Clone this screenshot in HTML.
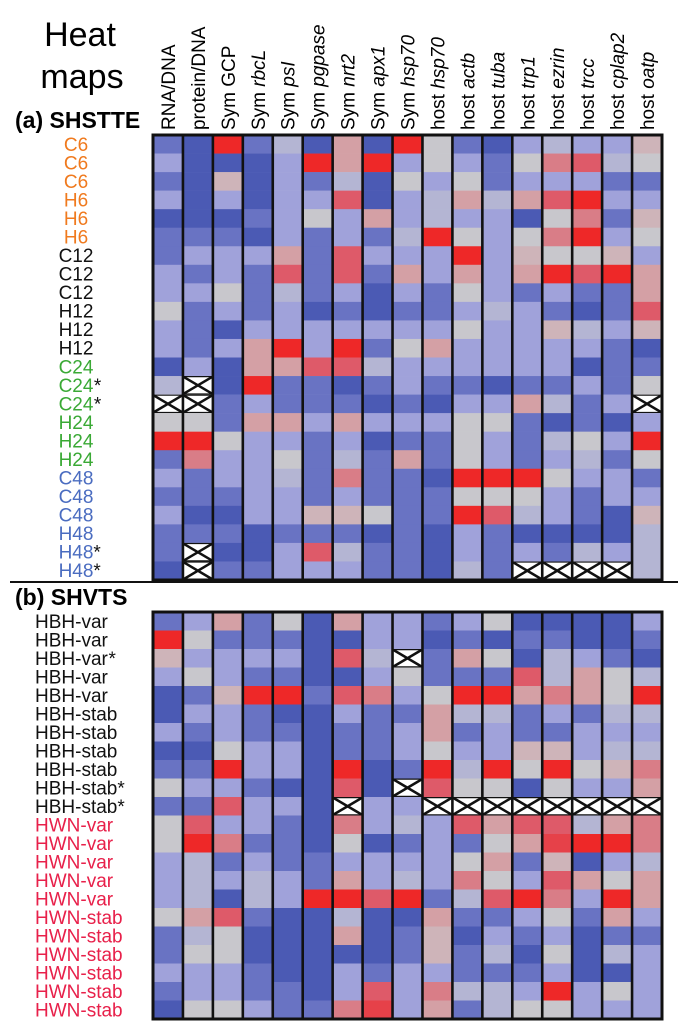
<!DOCTYPE html>
<html><head><meta charset="utf-8"><style>
html,body{margin:0;padding:0;background:#fff;}
body{width:678px;height:1024px;overflow:hidden;font-family:"Liberation Sans",sans-serif;}
</style></head><body>
<svg id="fig" width="678" height="1024" viewBox="0 0 678 1024" xmlns="http://www.w3.org/2000/svg" font-family="Liberation Sans, sans-serif">
<text x="80" y="46" font-size="34" text-anchor="middle">Heat</text>
<text x="82" y="88" font-size="34" text-anchor="middle">maps</text>
<text x="15" y="128" font-size="23" font-weight="bold">(a) SHSTTE</text>
<line x1="10" y1="582" x2="678" y2="582" stroke="#111" stroke-width="2"/>
<text x="15" y="605" font-size="23" font-weight="bold">(b) SHVTS</text>
<g id="headers"></g>
<g id="panelA"></g>
<g id="panelB"></g>
</svg>
<script>
const colLabels = [["","RNA/DNA"],["","protein/DNA"],["Sym ","GCP",0],["Sym ","rbcL"],["Sym ","psI"],["Sym ","pgpase"],["Sym ","nrt2"],["Sym ","apx1"],["Sym ","hsp70"],["host ","hsp70"],["host ","actb"],["host ","tuba"],["host ","trp1"],["host ","ezrin"],["host ","trcc"],["host ","cplap2"],["host ","oatp"]];
const rowLabelsA = ["C6","C6","C6","H6","H6","H6","C12","C12","C12","H12","H12","H12","C24","C24*","C24*","H24","H24","H24","C48","C48","C48","H48","H48*","H48*"];
const rowColorsA = ["#f07a1e","#f07a1e","#f07a1e","#f07a1e","#f07a1e","#f07a1e","#111","#111","#111","#111","#111","#111","#3aa935","#3aa935","#3aa935","#3aa935","#3aa935","#3aa935","#4a6cc0","#4a6cc0","#4a6cc0","#4a6cc0","#4a6cc0","#4a6cc0"];
const rowLabelsB = ["HBH-var","HBH-var","HBH-var*","HBH-var","HBH-var","HBH-stab","HBH-stab","HBH-stab","HBH-stab","HBH-stab*","HBH-stab*","HWN-var","HWN-var","HWN-var","HWN-var","HWN-var","HWN-stab","HWN-stab","HWN-stab","HWN-stab","HWN-stab","HWN-stab"];
const rowColorsB = ["#111","#111","#111","#111","#111","#111","#111","#111","#111","#111","#111","#e8204a","#e8204a","#e8204a","#e8204a","#e8204a","#e8204a","#e8204a","#e8204a","#e8204a","#e8204a","#e8204a"];
const X = null;
const colsA = [
[-2,-1,-2,-1,-3,-2,-2,-1,-1,0,-1,-1,-3,-0.5,X,0,3,-2,-1,-2,-1,-2,-2,-3],
[-3,-3,-3,-3,-3,-2,-1,-2,-1,-2,-2,-2,-1,X,X,0,3,1.5,-2,-2,-3,-2,X,X],
[3,-3,0.5,-1,-3,-2,-1,-1,0,-1,-3,-1,-3,-3,-2,-2,0,-1,-1,-2,-3,-2,-3,-2],
[-2,-3,-3,-3,-2,-3,-1,-2,-2,-2,-1,1,1,3,-1,1,-1,-1,-1,-1,-1,-3,-3,-2],
[-0.5,-1,-1,-1,-1,-1,1,2,-0.5,-1,-1,3,1,-2,-2,1,-1,0,-0.5,-1,-1,-2,-1,-1],
[-3,3,-2,-1,0,-2,-2,-2,-2,-3,-1,-1,2,-2,-2,-1,-2,-2,-2,-2,0.5,-2,2,-1],
[1,1,-0.5,2,-1,-1,2,2,-1,-2,-1,3,2,-3,-2,1,-1,-0.5,1.5,-1,0.5,-2,-0.5,-1],
[-3,3,-3,-3,1,-2,-1,-2,-3,-3,-1,-2,-0.5,-2,-3,-1,-3,-2,-2,-2,0,-3,-2,-2],
[3,-1,0,-1,-1,-0.5,-1,1,-1,-2,-1,0,-1,-1,-2,-1,-2,1,-2,-2,-2,-2,-2,-2],
[0,0,-1,-0.5,-0.5,3,-1,-1,-2,-2,-1,1,-1,-2,-3,-1,-2,-2,-3,-2,-2,-3,-3,-3],
[-2,-1,0,1,-1,0,3,1,0,-1,0,-1,-1,-2,-1,0,0,0,3,0,3,-1,-1,-0.5],
[-3,-2,-2,-0.5,-1,-1,-1,-1,-1,-0.5,-1,-1,-1,-3,-1,0,-1,-1,3,0,2,-2,-2,-2],
[-1,0,-1,1,-3,0,0.5,1,-2,-1,-1,-1,-1,-2,1,-2,-2,-2,3,0,-0.5,-3,-1,X],
[-0.5,1.5,-1,2,0,1.5,0,3,-1,-2,0.5,-1,-1,-2,-0.5,-3,-0.5,-1,0,-1,-1,-3,-2,X],
[-1,2,-1,3,1.5,3,0,2,-2,-3,-0.5,-1,-3,-1,-2,-2,0,-0.5,-1,-2,-2,-3,-0.5,X],
[-1,-0.5,-2,-1,-2,-1,0.5,3,-2,-2,-1,-2,-2,-2,-1,-3,-1,-2,-1,-1,-3,-3,-1,X],
[0.5,0,-2,-1,0.5,0,-1,1,1,2,0.5,-3,-2,0,X,-1,3,0,-2,-1,0.5,-0.5,-0.5,-0.5]
];
const colsB = [
[-2,3,0.5,-1,-3,-3,-1,-3,-2,0,-2,0,0,-1,-1,-1,0,-2,-2,-1,-2,-3],
[-1,0,-1,0,-2,-1,-2,-3,-2,-1,-2,2,3,-0.5,-0.5,-0.5,1,-0.5,0,-1,-1,0],
[1,-2,-1,-1,0.5,-1,-1,0,3,-1,2,-1,1.5,-2,-1,-3,2,0,0,-1,-1,0],
[-2,-2,-1,-2,3,-2,-2,-1,-1,-2,-1,-1,-2,-1,-0.5,-0.5,-2,-3,-3,-2,-2,-1],
[0,-2,-1,-2,3,-3,-2,-1,-1,-3,-1,-2,-2,-2,-1,-1,-3,-3,-3,-3,-2,-2],
[-3,-3,-3,-3,-2,-3,-3,-3,-3,-3,-3,-3,-3,-2,-2,3,-3,-3,-3,-3,-3,-2],
[1,-3,2,-3,2,-1,-2,-2,3,2,X,1.5,0,-1,1,3,-0.5,1,-3,-1,-1,1.5],
[-1,-1,-0.5,-1,1.5,-2,-2,-2,-3,-3,-1,-1,-3,-1,-1,2,-3,-3,-3,-2,2,2.5],
[-1,-1,X,0,-1,-2,-1,-1,-2,X,-1,-0.5,-2,-1,-0.5,3,-3,-2,-2,-1,-1,-1],
[-2,-3,-2,-2,0,1,1,0,3,2,X,-1,-1,-1,-1,-2,1,0.5,0.5,-1,1.5,1],
[-1,-2,1,-2,3,-0.5,-2,-1,-0.5,0,X,2,-2,0,1.5,-0.5,-2,-3,-2,-2,-0.5,-2],
[0,-3,0,-2,3,-0.5,-1,-1,3,0,X,1,0,1,0,2,-2,-1,-0.5,-2,-0.5,-0.5],
[-3,-2,-3,2,1,-2,-2,0.5,0,-3,X,2,1,-2,-1,3,-1,-2,-3,-2,-1,0],
[-3,-2,-0.5,-0.5,1.5,-1,-2,0.5,3,0,X,2,2.5,0.5,2,1.5,0,-1,0,-1,3,0],
[-3,-3,-1,1,1,-2,-1,-1,0,-1,X,-0.5,3,-3,1,-1,-2,-3,-3,-3,-1,-1],
[-3,-3,-2,0,0,-0.5,-1,-0.5,0.5,-1,X,1,3,-1,0,3,1,-2,-0.5,-3,0,-1],
[-1,-2,-3,-0.5,3,-0.5,-1,-0.5,1.5,1,X,1.5,1.5,-0.5,1,1,-1,-2,-1,-1,-1,-1]
];

const NS = "http://www.w3.org/2000/svg";
const stops = [[75,90,180],[105,115,195],[160,162,218],[200,199,204],[212,160,165],[222,90,105],[238,40,40]];
function colorScale(v){
  let t = Math.max(-3, Math.min(3, v)) + 3;
  let i = Math.min(5, Math.floor(t)), f = t - i;
  const a = stops[i], b = stops[i+1];
  return "rgb(" + a.map((c,k)=>Math.round(c+(b[k]-c)*f)).join(",") + ")";
}
const X0 = 153, X1 = 662;
const nCols = colLabels.length;
const cw = (X1 - X0) / nCols;
function xPos(i){ return X0 + i*cw; }
function mk(tag, attrs, parent){
  const e = document.createElementNS(NS, tag);
  for (const k in attrs) e.setAttribute(k, attrs[k]);
  parent.appendChild(e);
  return e;
}
// headers
const hg = document.getElementById("headers");
colLabels.forEach((lab, i) => {
  const cx = xPos(i) + cw/2 + 7;
  const t = mk("text", {x: cx, y: 130, "font-size": 19, transform: "rotate(-90 " + cx + " 130)"}, hg);
  
  
  if (lab[0]) { const s1 = mk("tspan", {}, t); s1.textContent = lab[0]; }
  const s2 = mk("tspan", {}, t);
  s2.textContent = lab[1];
  if (lab[0] && lab[2] !== 0) s2.setAttribute("font-style", "italic");
});

function drawPanel(gid, cols, labels, colors, top, bottom, labelMode){
  const g = document.getElementById(gid);
  const nRows = labels.length;
  const rh = (bottom - top) / nRows;
  const yPos = r => top + r*rh;
  cols.forEach((col, c) => {
    col.forEach((v, r) => {
      const x = xPos(c), y = yPos(r);
      if (v === null) {
        const rc = mk("rect", {x: x, y: y, width: cw, height: rh, fill: "#fff"}, g);
        
        
        const p = mk("path", {d: "M"+(x+1)+" "+(y+1)+"L"+(x+cw-1)+" "+(y+rh-1)+"M"+(x+cw-1)+" "+(y+1)+"L"+(x+1)+" "+(y+rh-1), stroke: "#111", "stroke-width": 2.5, fill: "none"}, g);
        
        
        mk("line", {x1: x, y1: y+0.6, x2: x+cw, y2: y+0.6, stroke: "#111", "stroke-width": 1.2}, g);
        mk("line", {x1: x, y1: y+rh-0.6, x2: x+cw, y2: y+rh-0.6, stroke: "#111", "stroke-width": 1.2}, g);
      } else {
        const rc = mk("rect", {x: x, y: y, width: cw+0.3, height: rh+0.3, fill: colorScale(v)}, g);
        
        
      }
    });
  });
  for (let c = 1; c < cols.length; c++) {
    const l = mk("line", {x1: xPos(c), y1: top, x2: xPos(c), y2: bottom, stroke: "#111", "stroke-width": 2.6}, g);
    
    
  }
  const b = mk("rect", {x: X0, y: top, width: X1-X0, height: bottom-top, fill: "none", stroke: "#111", "stroke-width": 3}, g);
  
  
  labels.forEach((lab, r) => {
    const base = lab.replace("*","");
    const star = lab.indexOf("*") >= 0;
    const y = yPos(r) + rh/2 + 6.5;
    const attrs = labelMode === "center" ? {x: 76, y: y, "text-anchor": "middle"} : {x: 35, y: y};
    attrs["font-size"] = 19;
    attrs.fill = colors[r];
    const t = mk("text", attrs, g);
    
    
    t.textContent = base;
    if (star) {
      const bb = t.getBBox();
      const s = mk("text", {x: bb.x + bb.width, y: y, "font-size": 19, fill: "#111"}, g);
      
      
      s.textContent = "*";
    }
  });
}
drawPanel("panelA", colsA, rowLabelsA, rowColorsA, 135, 580, "center");
drawPanel("panelB", colsB, rowLabelsB, rowColorsB, 612, 1019, "left");
</script>
</body></html>
